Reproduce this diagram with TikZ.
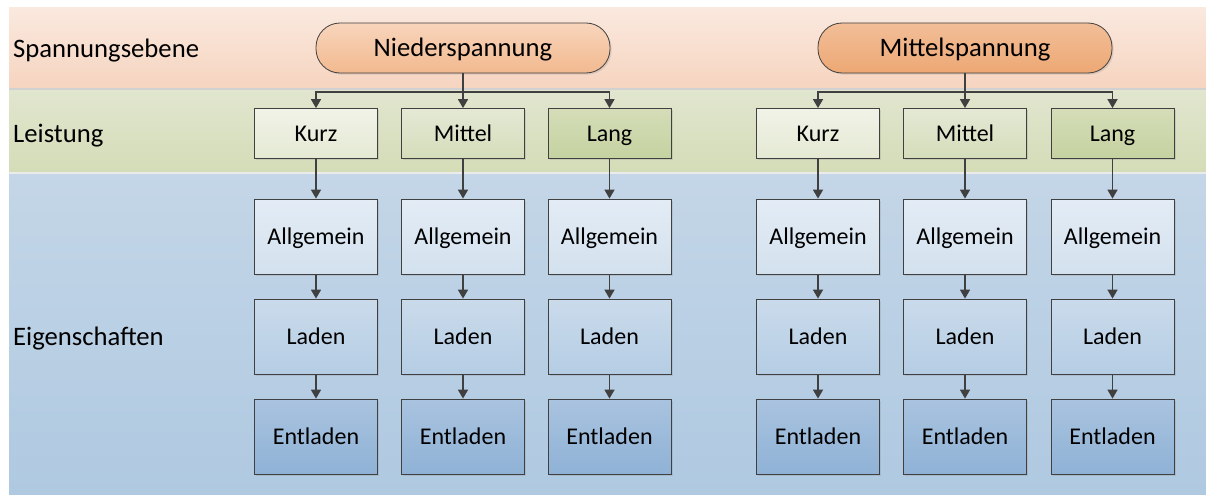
\documentclass[tikz,border=0pt]{standalone}
\usepackage{fontspec}
\setmainfont{Carlito}
\usetikzlibrary{arrows.meta,shadows}

% band and box colours
\definecolor{peachT}{HTML}{FAE9DF}
\definecolor{peachB}{HTML}{F6D4BF}
\definecolor{greenT}{HTML}{E1E6CF}
\definecolor{greenB}{HTML}{D4DCB7}
\definecolor{blueT}{HTML}{C4D6E7}
\definecolor{blueB}{HTML}{AFC9E1}
\definecolor{niedT}{HTML}{F8D5BC}
\definecolor{niedB}{HTML}{F2B98F}
\definecolor{mittT}{HTML}{F2BE98}
\definecolor{mittB}{HTML}{EDA874}
\definecolor{kurzT}{HTML}{F1F3E8}
\definecolor{kurzB}{HTML}{E4E9D3}
\definecolor{mitT}{HTML}{E4E9D5}
\definecolor{mitB}{HTML}{D4DDBA}
\definecolor{langT}{HTML}{D4DDB8}
\definecolor{langB}{HTML}{C5D2A0}
\definecolor{allT}{HTML}{E3ECF5}
\definecolor{allB}{HTML}{D3E1EE}
\definecolor{ladT}{HTML}{CADBEB}
\definecolor{ladB}{HTML}{B5CDE4}
\definecolor{entT}{HTML}{A9C3DF}
\definecolor{entB}{HTML}{8FB2D6}
\definecolor{edge}{HTML}{404040}

\tikzset{
  rowlabel/.style={anchor=base west, inner sep=0pt,
    font=\fontsize{26.67}{32}\selectfont},
  box/.style={rectangle, draw=edge, line width=0.8pt, inner sep=0pt,
    minimum width=123pt, text=black, text height=15.5pt, text depth=0pt,
    font=\fontsize{24}{29}\selectfont,
    drop shadow={opacity=0.22, shadow xshift=1.6pt, shadow yshift=-1.6pt}},
  levelbox/.style={box, minimum height=50pt},
  propbox/.style={box, minimum height=75pt},
  voltbox/.style={box, minimum width=294pt, minimum height=50pt,
    rounded corners=24pt, text height=17.2pt,
    font=\fontsize{26.67}{32}\selectfont},
  link/.style={draw=edge, line width=1.6pt},
  arr/.style={link, -{Triangle[length=9pt,width=10pt]}},
}

\begin{document}
\begin{tikzpicture}[x=1pt,y=-1pt]
\useasboundingbox (0,0) rectangle (1206,495);

% background bands
\shade[top color=peachT, bottom color=peachB] (9,8) rectangle (1206,89);
\shade[top color=greenT, bottom color=greenB] (9,89) rectangle (1206,173);
\shade[top color=blueT, bottom color=blueB] (9,173) rectangle (1206,494);
\fill[black!18] (9,88.2) rectangle (1206,89.6);
\fill[black!8] (9,172.4) rectangle (1206,173.6);

% row labels
\node[rowlabel] (lspan) at (13,58) {Spannungsebene};
\node[rowlabel] (lleis) at (13,142) {Leistung};
\node[rowlabel] (leig) at (13,345) {Eigenschaften};

% voltage levels
\node[voltbox, top color=niedT, bottom color=niedB] (nied) at (463,48) {Niederspannung};
\node[voltbox, top color=mittT, bottom color=mittB] (mitt) at (965,48) {Mittelspannung};

% columns: name / x position / power label / colours
\foreach \c/\x/\lab/\ct/\cb in {a/316/Kurz/kurzT/kurzB, b/463/Mittel/mitT/mitB,
    c/609.5/Lang/langT/langB, d/818/Kurz/kurzT/kurzB, e/965/Mittel/mitT/mitB,
    f/1112.5/Lang/langT/langB}{
  \node[levelbox, top color=\ct, bottom color=\cb] (p\c) at (\x,133.5) {\lab};
  \node[propbox, top color=allT, bottom color=allB] (g\c) at (\x,236.5) {Allgemein};
  \node[propbox, top color=ladT, bottom color=ladB] (l\c) at (\x,336.5) {Laden};
  \node[propbox, top color=entT, bottom color=entB] (e\c) at (\x,436.5) {Entladen};
  \draw[arr] (p\c.south) -- (g\c.north);
  \draw[arr] (g\c.south) -- (l\c.north);
  \draw[arr] (l\c.south) -- (e\c.north);
}

% distribution from voltage level to power classes
\coordinate (nbus) at (463,92);
\coordinate (mbus) at (965,92);
\draw[link] (nied.south) -- (nbus);
\draw[arr] (nbus) -| (pa.north);
\draw[arr] (nbus) -- (pb.north);
\draw[arr] (nbus) -| (pc.north);
\draw[link] (mitt.south) -- (mbus);
\draw[arr] (mbus) -| (pd.north);
\draw[arr] (mbus) -- (pe.north);
\draw[arr] (mbus) -| (pf.north);
\end{tikzpicture}
\end{document}
